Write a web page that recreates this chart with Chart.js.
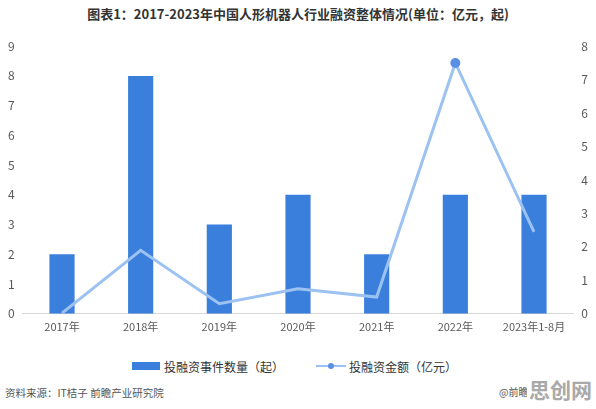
<!DOCTYPE html>
<html>
<head>
<meta charset="utf-8">
<script src="https://cdn.jsdelivr.net/npm/chart.js@4"></script>
<style>
  html, body { margin:0; padding:0; background:#fff; width:596px; height:409px; overflow:hidden; font-family:"Noto Sans CJK SC", sans-serif; }
  #title { position:absolute; left:0; top:4px; width:596px; text-align:center; font-size:13px; font-weight:bold; color:#333; }
  #wrap { position:absolute; left:0; top:31px; width:596px; height:308px; }
  #legend { position:absolute; top:357px; left:0; width:596px; height:20px; font-size:12px; color:#333; }
  .lg { position:absolute; top:0; display:flex; align-items:center; height:18px; }
  #source { position:absolute; left:5px; top:385px; font-size:10.5px; color:#555; }
  #credit { position:absolute; left:499px; top:384px; font-size:10px; color:#555; white-space:nowrap; }
  #wm { position:absolute; left:527px; top:377px; padding:0 2px; line-height:24px; font-size:21px; font-weight:bold; color:#a9a9a9; background:#fff; white-space:nowrap; }
</style>
</head>
<body>
<div id="title">图表1：2017-2023年中国人形机器人行业融资整体情况(单位：亿元，起)</div>
<div id="wrap"><canvas id="c"></canvas></div>
<div id="legend">
  <div class="lg" style="left:132px;"><span style="display:inline-block;width:28px;height:8px;background:#3b7fdd;margin-right:4px;"></span>投融资事件数量（起）</div>
  <div class="lg" style="left:316px;"><span style="position:relative;display:inline-block;width:30px;height:10px;margin-right:3px;"><span style="position:absolute;left:0;top:4px;width:30px;height:2px;background:#9cc2f1;"></span><span style="position:absolute;left:12px;top:2px;width:6px;height:6px;border-radius:3px;background:#5a90e3;"></span></span>投融资金额（亿元）</div>
</div>
<div id="source">资料来源：IT桔子 前瞻产业研究院</div>
<div id="credit">@前瞻经济学人APP</div>
<div id="wm">思创网</div>
<script>
const categories = ["2017年","2018年","2019年","2020年","2021年","2022年","2023年1-8月"];
const eventCounts = [2, 8, 3, 4, 2, 4, 4];
const fundingAmounts = [0.02, 1.9, 0.3, 0.75, 0.5, 7.5, 2.45];
const leftTicks = [0,1,2,3,4,5,6,7,8,9];
const rightTicks = [0,1,2,3,4,5,6,7,8];

const tickFont = { family: "'Noto Sans CJK SC', sans-serif", size: 12 };
new Chart(document.getElementById('c'), {
  data: {
    labels: categories,
    datasets: [
      {
        type: 'line',
        label: '投融资金额（亿元）',
        data: fundingAmounts,
        yAxisID: 'y1',
        borderColor: '#9cc2f1',
        borderWidth: 3,
        pointRadius: fundingAmounts.map((v, i) => i === 5 ? 3.5 : 0),
        pointBackgroundColor: '#5a90e3',
        pointBorderColor: '#5a90e3',
        tension: 0,
        order: 0
      },
      {
        type: 'bar',
        label: '投融资事件数量（起）',
        data: eventCounts,
        yAxisID: 'y',
        backgroundColor: '#3b7fdd',
        categoryPercentage: 1,
        barPercentage: 0.32,
        order: 1
      }
    ]
  },
  options: {
    responsive: true,
    maintainAspectRatio: false,
    animation: false,
    layout: { padding: { left: 0, right: 0, top: 4, bottom: 0 } },
    plugins: { legend: { display: false }, tooltip: { enabled: false } },
    scales: {
      x: {
        grid: { display: false, drawTicks: false },
        border: { display: true, color: '#d9d9d9', width: 1 },
        ticks: { color: '#595959', font: { family: tickFont.family, size: 11 }, padding: 6, maxRotation: 0 }
      },
      y: {
        position: 'left',
        min: 0, max: 9,
        afterBuildTicks: a => { a.ticks = leftTicks.map(v => ({ value: v })); },
        grid: { display: false, drawTicks: false },
        border: { display: false },
        ticks: { color: '#595959', font: tickFont, padding: 8 }
      },
      y1: {
        position: 'right',
        min: 0, max: 8,
        afterBuildTicks: a => { a.ticks = rightTicks.map(v => ({ value: v })); },
        grid: { display: false, drawTicks: false },
        border: { display: false },
        ticks: { color: '#595959', font: tickFont, padding: 8 }
      }
    }
  }
});
</script>
</body>
</html>
